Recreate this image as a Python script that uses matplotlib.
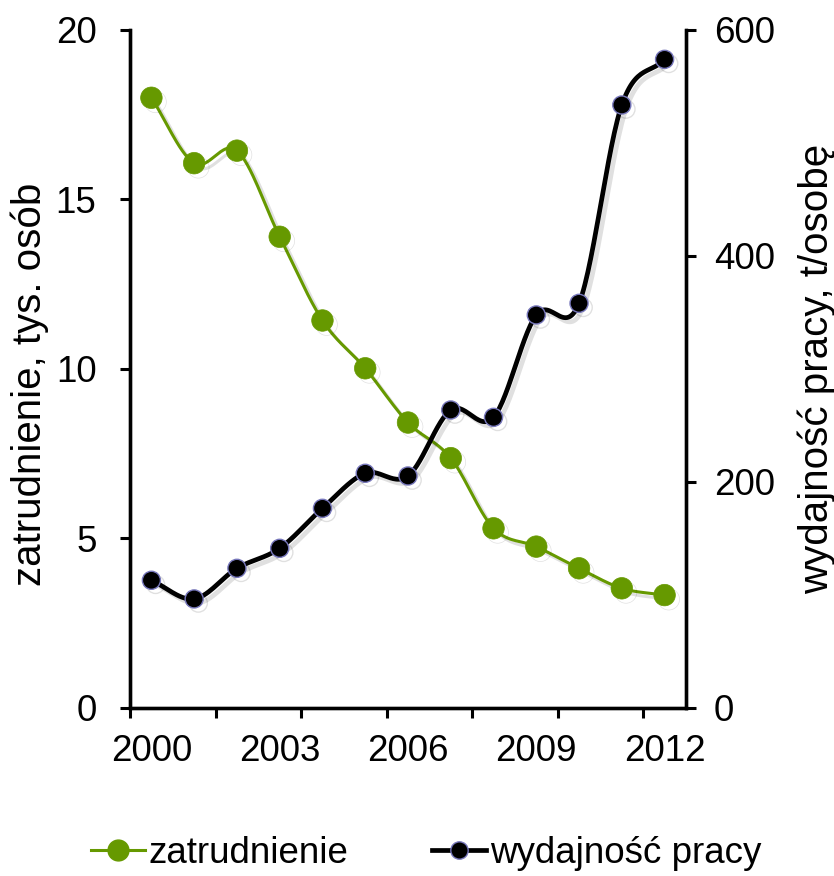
import numpy as np
import matplotlib; matplotlib.use("Agg")
import matplotlib.pyplot as plt
import matplotlib.patheffects as pe
from matplotlib.lines import Line2D

plt.rcParams['font.family'] = ['Liberation Sans', 'DejaVu Sans']

years = list(range(2000, 2013))
zatrudnienie = [18.0, 16.07, 16.44, 13.9, 11.43, 10.02, 8.42, 7.37, 5.30, 4.76, 4.12, 3.53, 3.33]   # tys. osób
wydajnosc = [113, 96.5, 123.6, 141.3, 176.7, 207.7, 205.3, 263.7, 257.2, 347.8, 358.1, 533.6, 574]  # t/osobę
year_labels = ["2000", "2003", "2006", "2009", "2012"]

GREEN = "#669900"
FS = 26.5

def smooth(x, y, n=30):
    # Catmull-Rom curve through the points (Excel-like "smoothed line")
    x = np.asarray(x, float); y = np.asarray(y, float)
    px = np.r_[2*x[0]-x[1], x, 2*x[-1]-x[-2]]; py = np.r_[2*y[0]-y[1], y, 2*y[-1]-y[-2]]
    xs, ys = [], []
    t = np.linspace(0, 1, n)
    for i in range(1, len(px)-2):
        for p, out in ((px, xs), (py, ys)):
            p0, p1, p2, p3 = p[i-1], p[i], p[i+1], p[i+2]
            out.extend(0.5*((2*p1) + (-p0+p2)*t + (2*p0-5*p1+4*p2-p3)*t**2 + (-p0+3*p1-3*p2+p3)*t**3))
    return np.array(xs), np.array(ys)

shadow = [pe.SimpleLineShadow(offset=(3, -3), shadow_color="k", alpha=0.12), pe.Normal()]

fig = plt.figure(figsize=(8.34, 8.76), dpi=100)
ax = fig.add_axes([0.1559, 0.1918, 0.6666, 0.774])
ax2 = ax.twinx()

x = np.arange(len(years))
sx, sy = smooth(x, zatrudnienie)
ax.plot(sx, sy, color=GREEN, lw=2.2, path_effects=shadow, zorder=2)
ax.plot(x, zatrudnienie, ls="none", marker="o", ms=15.5, mfc=GREEN, mec=GREEN, mew=0.5,
        path_effects=shadow, zorder=3)

sx, sy = smooth(x, wydajnosc)
ax2.plot(sx, sy, color="black", lw=3.4, path_effects=shadow, zorder=2)
ax2.plot(x, wydajnosc, ls="none", marker="o", ms=13, mfc="black", mec="#7777bb", mew=1,
         path_effects=shadow, zorder=3)

ax.set_xlim(-0.5, 12.5)
ax.set_ylim(0, 20)
ax2.set_ylim(0, 600)
ax.set_yticks([0, 5, 10, 15, 20])
ax2.set_yticks([0, 200, 400, 600])

# tick marks between categories, labels every third year
ax.set_xticks(np.arange(-0.5, 12, 2))
ax.set_xticklabels([])
ax.set_xticks([0, 3, 6, 9, 12], minor=True)
ax.set_xticklabels(year_labels, minor=True)
ax.tick_params(axis="x", which="major", direction="out", length=7.2, width=2.2)
ax.tick_params(axis="x", which="minor", length=0, pad=19, labelsize=FS)
ax.tick_params(axis="y", direction="out", length=7.2, width=2.2, labelsize=FS, pad=17)
ax2.tick_params(axis="y", direction="out", length=7.2, width=2.2, labelsize=FS, pad=13)

for a in (ax, ax2):
    a.spines["top"].set_visible(False)
    for s in a.spines.values():
        s.set_linewidth(2.4)

ax.set_ylabel("zatrudnienie, tys. osób", fontsize=29)
ax2.set_ylabel("wydajność pracy, t/osobę", fontsize=29)
ax.yaxis.set_label_coords(-0.145, 0.477)
ax2.yaxis.set_label_coords(1.2, 0.5)

handles = [Line2D([], [], color=GREEN, lw=2.2, marker="o", ms=15, mfc=GREEN, mec=GREEN),
           Line2D([], [], color="black", lw=3.4, marker="o", ms=12.5, mfc="black", mec="#7777bb")]
fig.legend(handles, ["zatrudnienie", "wydajność pracy"], loc="center", bbox_to_anchor=(0.511, 0.026),
           ncol=2, frameon=False, fontsize=FS, handlelength=1.47, handletextpad=0.1, columnspacing=2.28)

fig.savefig("out.png", dpi=100)
